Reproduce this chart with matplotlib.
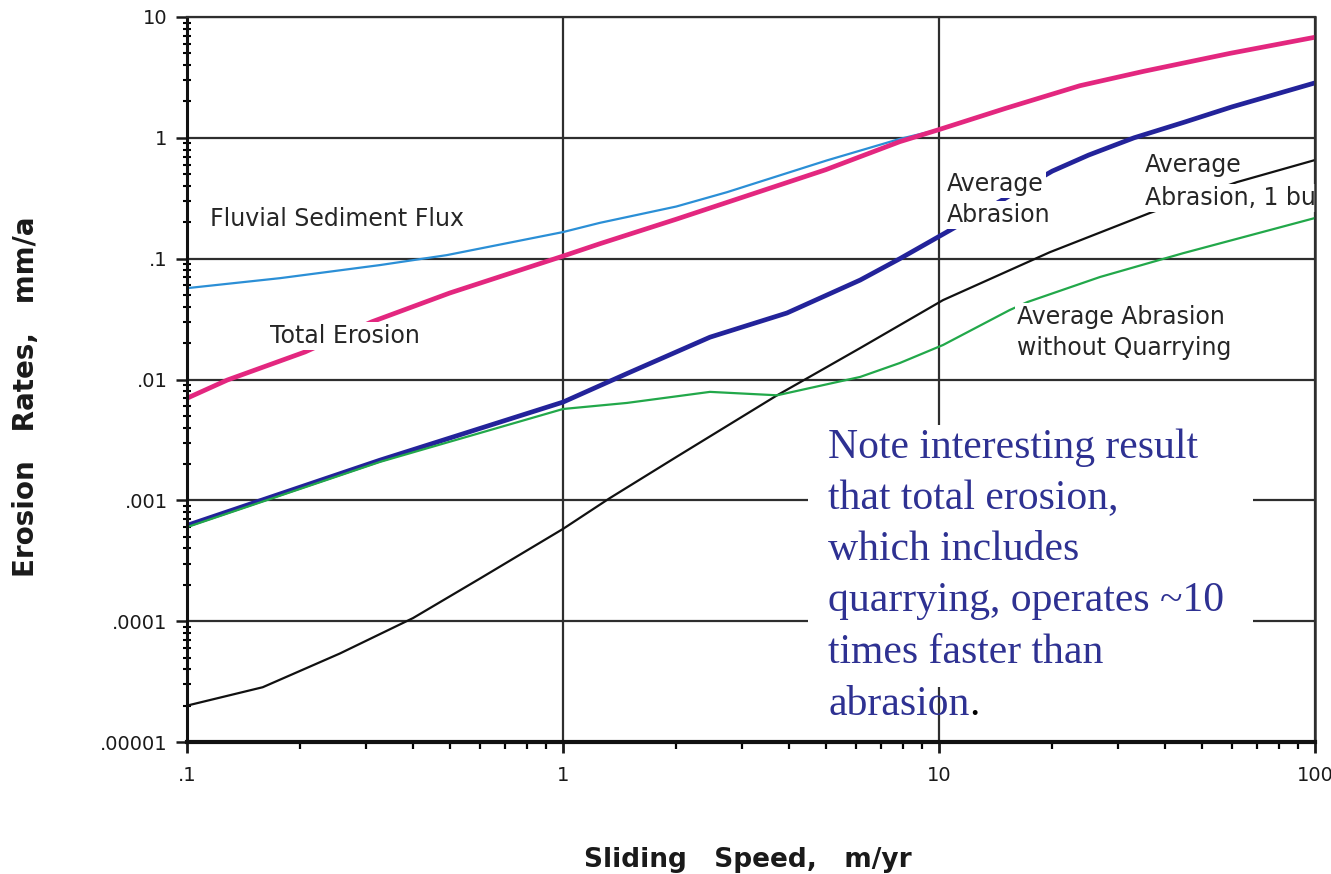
import matplotlib
matplotlib.use("Agg")
import matplotlib.pyplot as plt
from matplotlib.patches import Rectangle

# ---------------- data ----------------
fluvial_x = [0.1, 0.177, 0.326, 0.491, 1.0, 1.254, 2.0, 2.73, 5.03, 7.87, 10.0]
fluvial_y = [0.057, 0.069, 0.0885, 0.107, 0.166, 0.198, 0.27, 0.355, 0.65, 0.98, 1.17]

total_x = [0.1, 0.128, 0.206, 0.31, 0.5, 1.0, 1.254, 2.0, 5.0, 7.87, 10.0, 15.0, 23.7, 35.0, 59.4, 100]
total_y = [0.0070, 0.0099, 0.0169, 0.030, 0.052, 0.105, 0.133, 0.212, 0.545, 0.93, 1.17, 1.75, 2.7, 3.55, 5.0, 6.8]

abr_x = [0.1, 0.326, 1.0, 1.48, 2.46, 3.94, 6.17, 7.87, 10.7, 20, 25, 33, 45, 60, 100]
abr_y = [0.00062, 0.00215, 0.0065, 0.0112, 0.0224, 0.0355, 0.0665, 0.10, 0.172, 0.53, 0.72, 1.0, 1.35, 1.8, 2.85]

noq_x = [0.1, 0.326, 1.0, 1.48, 2.46, 3.71, 6.17, 7.87, 10.25, 15.4, 17.2, 26.8, 44.6, 100]
noq_y = [0.0006, 0.00208, 0.0057, 0.0064, 0.0079, 0.0074, 0.0105, 0.0137, 0.0193, 0.0375, 0.0438, 0.0705, 0.111, 0.217]

bump_x = [0.1, 0.159, 0.255, 0.399, 0.601, 1.0, 1.33, 2.0, 3.71, 4.45, 6.17, 10.25, 19.7, 36.4, 62, 100]
bump_y = [2.0e-5, 2.84e-5, 5.4e-5, 1.06e-4, 2.25e-4, 5.8e-4, 1.04e-3, 2.28e-3, 7.4e-3, 1.02e-2, 1.82e-2, 0.0454, 0.113, 0.239, 0.43, 0.655]

x_ticks = [0.1, 1, 10, 100]
x_tick_labels = [".1", "1", "10", "100"]
y_ticks = [1e-5, 1e-4, 1e-3, 1e-2, 1e-1, 1, 10]
y_tick_labels = [".00001", ".0001", ".001", ".01", ".1", "1", "10"]

note_lines = ["Note interesting result", "that total erosion,", "which includes",
              "quarrying, operates ~10", "times faster than", "abrasion"]

# ---------------- figure ----------------
plt.rcParams['font.family'] = ['DejaVu Sans']
W, H = 1331, 874
fig = plt.figure(figsize=(W / 100, H / 100), dpi=100)
fig.patch.set_facecolor('white')
ax = fig.add_axes([187 / W, 1 - 742 / H, (1315 - 187) / W, (742 - 17) / H])
ax.set_xscale('log')
ax.set_yscale('log')
ax.set_xlim(0.1, 100)
ax.set_ylim(1e-5, 10)

ax.grid(True, which='major', color='#2e2e2e', lw=1.6)
ax.grid(False, which='minor')

ax.set_xticks(x_ticks, x_tick_labels)
ax.set_yticks(y_ticks, y_tick_labels)
ax.tick_params(axis='both', which='major', labelsize=14, colors='#1a1a1a')
ax.tick_params(axis='x', which='major', direction='out', length=8, width=2, pad=9)
ax.tick_params(axis='x', which='minor', direction='out', length=5, width=1.6)
ax.tick_params(axis='y', which='major', direction='out', length=8, width=1.8, pad=6)
ax.tick_params(axis='y', which='minor', direction='inout', length=6, width=1.5)
ax.tick_params(axis='both', which='minor', labelleft=False, labelbottom=False)

for side, lw in [('left', 2.2), ('bottom', 3.0), ('top', 1.6), ('right', 1.8)]:
    ax.spines[side].set_linewidth(lw)
    ax.spines[side].set_color('#111111' if side in ('left', 'bottom') else '#2e2e2e')

# curves
ax.plot(fluvial_x, fluvial_y, color='#2b8fd6', lw=1.6, zorder=2.0)
ax.plot(total_x, total_y, color='#e3277f', lw=3.4, zorder=2.1)
ax.plot(abr_x, abr_y, color='#23239a', lw=3.4, zorder=2.0)
ax.plot(noq_x, noq_y, color='#22a84a', lw=1.6, zorder=2.1)
ax.plot(bump_x, bump_y, color='#111111', lw=1.6, zorder=2.0)

# curve labels (each line has its own white box that hides the curve underneath)
lab_kw = dict(fontsize=17, color='#262626', zorder=2.4, va='baseline', ha='left',
              bbox=dict(boxstyle='square,pad=0.08', fc='white', ec='none'))
ax.text(0.1151, 0.186, "Fluvial Sediment Flux", **lab_kw)
ax.text(0.1663, 0.020, "Total Erosion", **lab_kw)
ax.text(10.5, 0.3627, "Average", **lab_kw)
ax.text(10.5, 0.2009, "Abrasion", **lab_kw)
ax.text(35.3, 0.521, "Average", **lab_kw)
ax.text(35.3, 0.278, "Abrasion, 1 bu", **lab_kw)
ax.text(16.12, 0.0288, "Average Abrasion", **lab_kw)
ax.text(16.12, 0.0159, "without Quarrying", **lab_kw)

# annotation box
bx0, bx1 = (808 - 187) / 1128, (1253 - 187) / 1128
by0, by1 = (742 - 687) / 725, (742 - 425) / 725
ax.add_patch(Rectangle((bx0, by0), bx1 - bx0, by1 - by0, transform=ax.transAxes,
                       fc='white', ec='none', zorder=2.3))
baselines = [458, 509, 560, 611, 663, 715]
last = None
for line, b in zip(note_lines, baselines):
    last = ax.text((828 - 187) / 1128, (742 - b) / 725, line, transform=ax.transAxes,
                   family=['Liberation Serif', 'DejaVu Serif'], fontsize=30,
                   color='#2e3192', va='baseline', ha='left', zorder=2.45)
ax.annotate(".", xy=(1, 0), xycoords=last, ha='left', va='bottom',
            family=['Liberation Serif', 'DejaVu Serif'], fontsize=30,
            color='black', zorder=2.45)

# axis titles
fig.text(748 / W, 7 / H, "Sliding   Speed,   m/yr", fontsize=19, fontweight='bold',
         ha='center', va='baseline', color='#1a1a1a')
fig.text(26 / W, 1 - 397 / H, "Erosion   Rates,   mm/a", fontsize=20, fontweight='bold',
         rotation=90, ha='center', va='center', color='#1a1a1a')

fig.savefig("out.png", dpi=100, facecolor='white')
